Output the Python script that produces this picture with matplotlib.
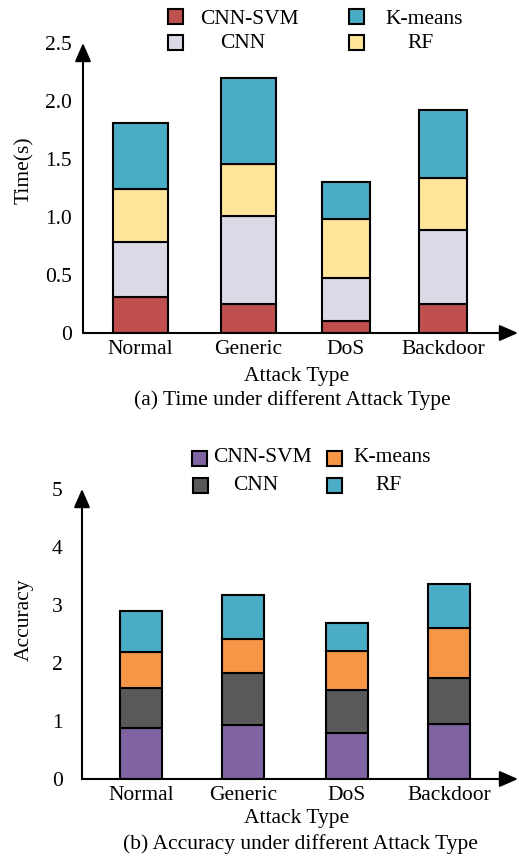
import matplotlib
matplotlib.use("Agg")
import matplotlib.pyplot as plt
import numpy as np
from matplotlib.patches import Rectangle

plt.rcParams['font.family'] = ['Liberation Serif', 'DejaVu Serif']
plt.rcParams['font.size'] = 15.5

W, H = 519, 859

# data
attacks = ["Normal", "Generic", "DoS", "Backdoor"]

# (a) time, stacked bottom -> top
time_labels = ["CNN-SVM", "CNN", "RF", "K-means"]
time_cnn_svm = [0.31, 0.25, 0.10, 0.25]
time_cnn = [0.475, 0.76, 0.37, 0.64]
time_rf = [0.455, 0.45, 0.51, 0.45]
time_kmeans = [0.57, 0.74, 0.32, 0.58]
time_yticks = [0, 0.5, 1.0, 1.5, 2.0, 2.5]
time_yticklabels = ["0", "0.5", "1.0", "1.5", "2.0", "2.5"]

# (b) accuracy, stacked bottom -> top
acc_labels = ["CNN-SVM", "CNN", "K-means", "RF"]
acc_cnn_svm = [0.885, 0.93, 0.79, 0.94]
acc_cnn = [0.68, 0.90, 0.75, 0.81]
acc_kmeans = [0.62, 0.58, 0.67, 0.85]
acc_rf = [0.72, 0.76, 0.48, 0.76]
acc_yticks = [0, 1, 2, 3, 4, 5]

# styles / layout
time_colors = ["#C0504D", "#DDD8E6", "#FEE599", "#4BACC6"]
acc_colors = ["#8064A2", "#595959", "#F79646", "#4BACC6"]
time_xpos = [0, 1.071, 2.039, 3.0]
time_widths = [0.546, 0.546, 0.476, 0.476]
acc_xpos = [0, 0.993, 2.006, 3.0]
acc_width = 0.41


def fig_rect(x0, y_top, x1, y_bot):
    return [x0 / W, 1 - y_bot / H, (x1 - x0) / W, (y_bot - y_top) / H]


def arrows(ax):
    for s in ax.spines.values():
        s.set_visible(False)
    kw = dict(arrowstyle='-|>,head_length=0.8,head_width=0.35', color='k',
              lw=1.5, shrinkA=0, shrinkB=0, mutation_scale=14)
    ax.annotate('', xy=(1, 0), xytext=(0, 0), xycoords='axes fraction',
                arrowprops=kw, annotation_clip=False)
    ax.annotate('', xy=(0, 1), xytext=(0, 0), xycoords='axes fraction',
                arrowprops=kw, annotation_clip=False)


def legend(items, colors, boxes):
    for (lab, col, (bx, by, tx, ty)) in zip(items, colors, boxes):
        fig.add_artist(Rectangle((bx / W, 1 - (by + 15) / H), 15 / W, 15 / H,
                                 transform=fig.transFigure, facecolor=col,
                                 edgecolor='black', lw=1.5))
        fig.text(tx / W, 1 - ty / H, lab, ha='center', va='center')


fig = plt.figure(figsize=(W / 100, H / 100), dpi=100)

# ---------- (a) ----------
ax1 = fig.add_axes(fig_rect(83, 43, 518, 333))
series = [time_cnn_svm, time_cnn, time_rf, time_kmeans]
bottom = np.zeros(len(attacks))
for vals, col, lab in zip(series, time_colors, time_labels):
    ax1.bar(time_xpos, vals, width=time_widths, bottom=bottom, color=col,
            edgecolor='black', linewidth=1.5, label=lab, zorder=3)
    bottom += np.array(vals)
ax1.set_xlim(-0.570, 3.745)
ax1.set_ylim(0, 2.5)
ax1.set_yticks(time_yticks)
ax1.set_yticklabels(time_yticklabels)
ax1.set_xticks(time_xpos)
ax1.set_xticklabels(attacks)
ax1.tick_params(axis='y', length=0, pad=8)
ax1.tick_params(axis='x', length=0, pad=5)
ax1.set_ylabel("Time(s)")
ax1.yaxis.set_label_coords((34 - 83) / 435, 0.56)
arrows(ax1)
fig.text(297 / W, 1 - 376 / H, "Attack Type", ha='center', va='center')
fig.text(292 / W, 1 - 400 / H, "(a) Time under different Attack Type", ha='center', va='center')

legend(["CNN-SVM", "CNN", "K-means", "RF"],
       [time_colors[0], time_colors[1], time_colors[3], time_colors[2]],
       [(168, 9, 249, 19), (168, 35, 243, 43), (349, 9, 424, 19), (349, 35, 421, 43)])

# ---------- (b) ----------
ax2 = fig.add_axes(fig_rect(82, 489, 518, 779))
series = [acc_cnn_svm, acc_cnn, acc_kmeans, acc_rf]
bottom = np.zeros(len(attacks))
for vals, col, lab in zip(series, acc_colors, acc_labels):
    ax2.bar(acc_xpos, vals, width=acc_width, bottom=bottom, color=col,
            edgecolor='black', linewidth=1.5, label=lab, zorder=3)
    bottom += np.array(vals)
ax2.set_xlim(-0.574, 3.67)
ax2.set_ylim(0, 5)
ax2.set_yticks(acc_yticks)
ax2.set_xticks(acc_xpos)
ax2.set_xticklabels(attacks)
ax2.tick_params(axis='y', length=0, pad=14)
ax2.tick_params(axis='x', length=0, pad=5)
ax2.set_ylabel("Accuracy")
ax2.yaxis.set_label_coords((34 - 82) / 436, 0.55)
arrows(ax2)
fig.text(297 / W, 1 - 818 / H, "Attack Type", ha='center', va='center')
fig.text(300 / W, 1 - 844 / H, "(b) Accuracy under different Attack Type", ha='center', va='center')

legend(["CNN-SVM", "CNN", "K-means", "RF"],
       [acc_colors[0], acc_colors[1], acc_colors[2], acc_colors[3]],
       [(192, 451, 262, 458), (193, 478, 256, 486), (327, 451, 392, 458), (327, 478, 389, 486)])

fig.savefig("out.png", dpi=100)
